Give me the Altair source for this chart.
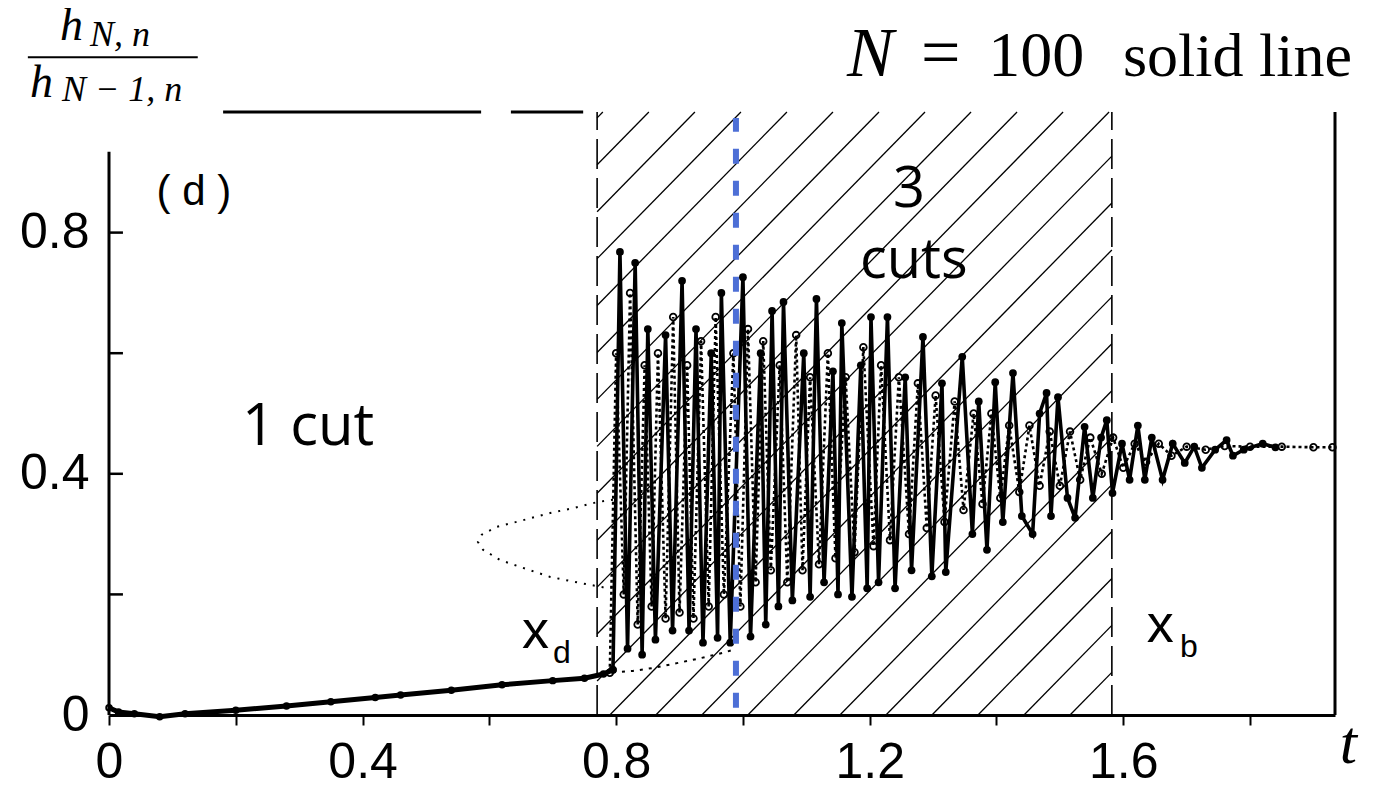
import altair as alt
import pandas as pd

# ---------------- data ----------------
T_MAX = 1.934          # right frame of the plot
V_MAX = 1.0            # top of the frame

# solid curve, before the transition (1 cut)
pre_t = [0.0, 0.015, 0.04, 0.08, 0.12, 0.20, 0.28, 0.35, 0.42, 0.46, 0.54, 0.62, 0.70, 0.75, 0.78, 0.795]
pre_v = [0.012, 0.005, 0.002, -0.003, 0.002, 0.008, 0.015, 0.022, 0.029, 0.033, 0.041, 0.050, 0.057, 0.061, 0.068, 0.075]

# solid curve (N = 100), oscillating part
osc_t = [0.806, 0.818, 0.830, 0.841, 0.850, 0.862, 0.878, 0.889, 0.904, 0.915, 0.926, 0.937,
         0.950, 0.960, 0.966, 0.980, 1.000, 1.012, 1.028, 1.036, 1.046, 1.056, 1.064, 1.078,
         1.096, 1.106, 1.116, 1.128, 1.142, 1.150, 1.156, 1.172, 1.186, 1.196, 1.202, 1.214,
         1.228, 1.240, 1.256, 1.266, 1.284, 1.298, 1.314, 1.320, 1.346, 1.362, 1.372, 1.385,
         1.398, 1.410, 1.426, 1.440, 1.457, 1.468, 1.479, 1.486, 1.497, 1.512, 1.524, 1.539,
         1.552, 1.565, 1.574, 1.583, 1.598, 1.610, 1.623, 1.634, 1.645, 1.662, 1.678, 1.697,
         1.712, 1.724, 1.745, 1.763, 1.773, 1.790, 1.820, 1.840]
osc_v = [0.768, 0.110, 0.750, 0.100, 0.640, 0.125, 0.630, 0.140, 0.720, 0.140, 0.640, 0.120,
         0.600, 0.128, 0.700, 0.120, 0.726, 0.130, 0.600, 0.150, 0.670, 0.180, 0.685, 0.190,
         0.600, 0.196, 0.690, 0.220, 0.570, 0.200, 0.650, 0.196, 0.580, 0.210, 0.660, 0.220,
         0.660, 0.210, 0.560, 0.240, 0.627, 0.230, 0.550, 0.237, 0.594, 0.300, 0.520, 0.274,
         0.552, 0.320, 0.567, 0.330, 0.300, 0.500, 0.534, 0.330, 0.527, 0.360, 0.327, 0.478,
         0.360, 0.460, 0.489, 0.368, 0.450, 0.390, 0.480, 0.390, 0.460, 0.390, 0.450, 0.418,
         0.445, 0.410, 0.440, 0.456, 0.430, 0.440, 0.450, 0.444]

# dotted curve with open circles
dot_t = [0.790, 0.800, 0.812, 0.822, 0.834, 0.845, 0.856, 0.866, 0.878, 0.890, 0.900, 0.912,
         0.922, 0.934, 0.946, 0.957, 0.970, 0.985, 0.996, 1.008, 1.020, 1.032, 1.044, 1.058,
         1.070, 1.084, 1.094, 1.106, 1.120, 1.134, 1.146, 1.162, 1.176, 1.190, 1.206, 1.218,
         1.232, 1.246, 1.262, 1.276, 1.290, 1.304, 1.318, 1.334, 1.348, 1.364, 1.378, 1.392,
         1.406, 1.420, 1.436, 1.452, 1.468, 1.484, 1.500, 1.516, 1.532, 1.548, 1.566, 1.584,
         1.600, 1.618, 1.636, 1.656, 1.676, 1.700, 1.730, 1.760, 1.800, 1.850, 1.900, 1.930]
dot_v = [0.070, 0.600, 0.200, 0.700, 0.150, 0.580, 0.180, 0.600, 0.160, 0.660, 0.170, 0.580,
         0.160, 0.620, 0.180, 0.660, 0.200, 0.600, 0.180, 0.640, 0.220, 0.620, 0.240, 0.580,
         0.220, 0.630, 0.240, 0.560, 0.250, 0.600, 0.260, 0.560, 0.270, 0.610, 0.280, 0.580,
         0.290, 0.560, 0.300, 0.550, 0.310, 0.530, 0.320, 0.520, 0.340, 0.500, 0.350, 0.500,
         0.360, 0.480, 0.370, 0.480, 0.380, 0.470, 0.380, 0.470, 0.390, 0.460, 0.400, 0.460,
         0.410, 0.450, 0.420, 0.450, 0.430, 0.445, 0.440, 0.446, 0.445, 0.445, 0.444, 0.444]

# thin dotted bifurcation curve (C shape) and its lower branch
bif_t = [0.795, 0.770, 0.732, 0.696, 0.653, 0.612, 0.588, 0.582, 0.590, 0.617, 0.653, 0.696, 0.743, 0.779, 0.801]
bif_v = [0.357, 0.353, 0.343, 0.335, 0.323, 0.312, 0.299, 0.287, 0.274, 0.257, 0.244, 0.229, 0.219, 0.212, 0.212]
low_t = [0.795, 0.826, 0.858, 0.896, 0.932, 0.968, 0.984]
low_v = [0.071, 0.073, 0.078, 0.086, 0.094, 0.103, 0.108]

# region boundaries
t_d = 0.770      # x_d
t_b = 1.582      # x_b
t_blue = 0.989   # blue dashed marker

# axis ticks / labels
x_ticks = [0, 0.2, 0.4, 0.6, 0.8, 1.0, 1.2, 1.4, 1.6, 1.8]
x_labels = [0, 0.4, 0.8, 1.2, 1.6]
y_ticks = [0.2, 0.4, 0.6, 0.8]
y_labels = [0, 0.4, 0.8]

# hatching of the 3-cut region
hatch_first = 0.790
hatch_step = 0.0726
hatch_slope = 1.072

# ---------------- tables ----------------
pre = pd.DataFrame({"t": pre_t, "v": pre_v, "o": range(len(pre_t))})
osc = pd.DataFrame({"t": pre_t[-1:] + osc_t, "v": pre_v[-1:] + osc_v})
osc["o"] = range(len(osc))
dotted = pd.DataFrame({"t": dot_t, "v": dot_v, "o": range(len(dot_t))})
bif = pd.DataFrame({"t": bif_t, "v": bif_v, "o": range(len(bif_t))})
low = pd.DataFrame({"t": low_t, "v": low_v, "o": range(len(low_t))})

segs = []
for k in range(-20, 21):
    c = hatch_first + k * hatch_step
    ta = max(t_d, c)
    tb = min(t_b, c + V_MAX / hatch_slope)
    if ta < tb:
        segs.append({"t": ta, "v": hatch_slope * (ta - c), "t2": tb, "v2": hatch_slope * (tb - c)})
hatch = pd.DataFrame(segs)

bounds = pd.DataFrame({"t": [t_d, t_b], "v": [0, 0], "v2": [V_MAX, V_MAX]})
frame = pd.DataFrame({
    "t":  [0, T_MAX, 0.18, 0.634],
    "t2": [0, T_MAX, 0.587, 0.748],
    "v":  [0, 0, V_MAX, V_MAX],
    "v2": [0.934, V_MAX, V_MAX, V_MAX],
})
yt = pd.DataFrame({"t": [0] * len(y_ticks), "t2": [0.022] * len(y_ticks), "v": y_ticks})
blue = pd.DataFrame({"t": [t_blue], "v": [0.012], "v2": [0.99]})
frac_bar = pd.DataFrame({"t": [-0.128], "t2": [0.140], "v": [1.091]})

# ---------------- scales / axes ----------------
xscale = alt.Scale(domain=[0, T_MAX], nice=False, zero=False)
yscale = alt.Scale(domain=[0, V_MAX], nice=False, zero=False)
label_list = ", ".join(str(x) for x in x_labels)
xaxis = alt.Axis(values=x_ticks, format=".1~f",
                 labelExpr=f"indexof([{label_list}], datum.value) >= 0 ? datum.label : ''",
                 tickSize=10, tickWidth=2, tickColor="black", domainWidth=3, domainColor="black",
                 labelFont="Liberation Sans", labelFontSize=50, labelColor="black",
                 labelBaseline="alphabetic", labelPadding=52,
                 grid=False, title=None, labelFlush=False, labelOverlap=False)
yaxis = alt.Axis(values=y_labels, format=".1~f", ticks=False, domain=False,
                 labelFont="Liberation Sans", labelFontSize=50, labelColor="black",
                 labelPadding=20, grid=False, title=None, labelFlush=False, labelOverlap=False)


def X(f="t"):
    return alt.X(f"{f}:Q", scale=xscale, axis=xaxis)


def Y(f="v"):
    return alt.Y(f"{f}:Q", scale=yscale, axis=yaxis)


layers = []
layers.append(alt.Chart(hatch).mark_rule(color="black", strokeWidth=1.3).encode(
    x=X(), y=Y(), x2="t2:Q", y2="v2:Q"))
layers.append(alt.Chart(bounds).mark_rule(color="black", strokeWidth=1.6, strokeDash=[30, 9]).encode(
    x=X(), y=Y(), y2="v2:Q"))
layers.append(alt.Chart(frame).mark_rule(color="black", strokeWidth=3).encode(
    x=X(), x2="t2:Q", y=Y(), y2="v2:Q"))
layers.append(alt.Chart(yt).mark_rule(color="black", strokeWidth=2.5).encode(
    x=X(), x2="t2:Q", y=Y()))
layers.append(alt.Chart(bif).mark_line(color="black", strokeWidth=2, strokeDash=[2, 7]).encode(
    x=X(), y=Y(), order="o:Q"))
layers.append(alt.Chart(low).mark_line(color="black", strokeWidth=2, strokeDash=[3, 6]).encode(
    x=X(), y=Y(), order="o:Q"))
layers.append(alt.Chart(dotted).mark_line(color="black", strokeWidth=2.6, strokeDash=[3, 3]).encode(
    x=X(), y=Y(), order="o:Q"))
layers.append(alt.Chart(dotted).mark_point(color="black", filled=False, size=45, strokeWidth=1.8, opacity=1).encode(
    x=X(), y=Y()))
layers.append(alt.Chart(pre).mark_line(color="black", strokeWidth=5).encode(
    x=X(), y=Y(), order="o:Q"))
layers.append(alt.Chart(pre).mark_point(color="black", filled=False, size=30, strokeWidth=2, opacity=1).encode(
    x=X(), y=Y()))
layers.append(alt.Chart(osc).mark_line(color="black", strokeWidth=3.6).encode(
    x=X(), y=Y(), order="o:Q"))
layers.append(alt.Chart(osc).mark_circle(color="black", size=60, opacity=1).encode(
    x=X(), y=Y()))
layers.append(alt.Chart(blue).mark_rule(color="#4d6fd6", strokeWidth=6, strokeDash=[15, 17]).encode(
    x=X(), y=Y(), y2="v2:Q"))
layers.append(alt.Chart(frac_bar).mark_rule(color="black", strokeWidth=2).encode(
    x=X(), x2="t2:Q", y=Y()))

# ---------------- text annotations ----------------
serif_italic = pd.DataFrame([
    {"s": "h", "t": -0.0773, "v": 1.1194, "z": 46},
    {"s": "N,  n", "t": -0.030, "v": 1.1095, "z": 36},
    {"s": "h", "t": -0.1246, "v": 1.0249, "z": 46},
    {"s": "N − 1, n", "t": -0.0741, "v": 1.0182, "z": 36},
    {"s": "N", "t": 1.164, "v": 1.0597, "z": 70},
    {"s": "t", "t": 1.9416, "v": -0.0796, "z": 62},
])
serif_up = pd.DataFrame([
    {"s": "=", "t": 1.2808, "v": 1.0597, "z": 70},
    {"s": "100", "t": 1.3872, "v": 1.0597, "z": 64},
    {"s": "solid line", "t": 1.5994, "v": 1.0597, "z": 62},
])
human = pd.DataFrame([
    {"s": "1 cut", "t": 0.2098, "v": 0.4478, "z": 58},
    {"s": "3", "t": 1.2366, "v": 0.8425, "z": 56},
    {"s": "cuts", "t": 1.1845, "v": 0.7247, "z": 56},
])
sans = pd.DataFrame([
    {"s": "( d )", "t": 0.075, "v": 0.8458, "z": 42},
    {"s": "x", "t": 0.6514, "v": 0.1111, "z": 54},
    {"s": "d", "t": 0.7003, "v": 0.0862, "z": 32},
    {"s": "x", "t": 1.6372, "v": 0.1211, "z": 54},
    {"s": "b", "t": 1.6893, "v": 0.0962, "z": 32},
])


def text_layer(df, font, style="normal"):
    return alt.Chart(df).mark_text(align="left", baseline="alphabetic", font=font,
                                   fontStyle=style, color="black").encode(
        x=X(), y=Y(), text="s:N", size=alt.Size("z:Q", scale=None, legend=None))


layers.append(text_layer(serif_italic, "Liberation Serif", "italic"))
layers.append(text_layer(serif_up, "Liberation Serif"))
layers.append(text_layer(human, "Open Sans"))
layers.append(text_layer(sans, "Liberation Sans"))

chart = alt.layer(*layers).properties(
    width=1226, height=603,
    autosize=alt.AutoSizeParams(type="none"),
    padding={"left": 101, "top": 104, "right": 41, "bottom": 70},
    background="white",
).configure_view(stroke=None)

chart.save("out.html", embed_options={"renderer": "svg", "actions": False})
